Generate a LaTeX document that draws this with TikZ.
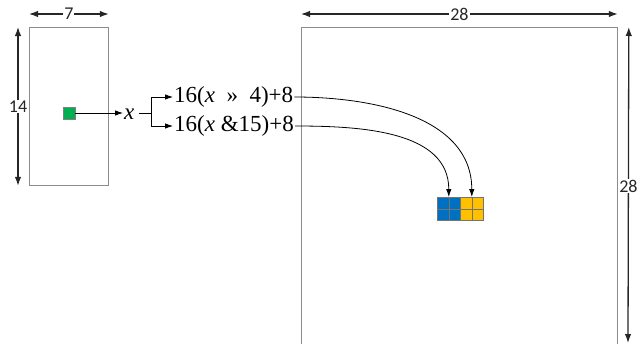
\documentclass[tikz,border=0pt]{standalone}
\usepackage{fontspec}
\setmainfont{Liberation Serif}
\newfontfamily\dimfont{Carlito}
\usetikzlibrary{positioning, arrows.meta, calc}
\definecolor{cellblue}{HTML}{0070C0}
\definecolor{cellyellow}{HTML}{FFC000}
\definecolor{cellgreen}{HTML}{00B050}

\begin{document}
\begin{tikzpicture}[x=1pt, y=-1pt, font=\fontsize{23}{25}\selectfont,
  frame/.style={draw=black!45, line width=0.8pt, inner sep=0pt, anchor=north west},
  dimline/.style={{Latex[length=9pt,width=6.5pt]}-{Latex[length=9pt,width=6.5pt]}, line width=1.3pt, black!85},
  dimlabel/.style={fill=white, inner sep=1pt, font=\dimfont\fontsize{18}{20}\selectfont},
  link/.style={-{Latex[length=8pt,width=5.5pt]}, line width=0.8pt},
  block/.style={draw=black!55, line width=0.6pt, minimum size=23pt, inner sep=0pt}]
  \useasboundingbox (0,0) rectangle (640,343);
  % input map, 7 x 14
  \node[frame, minimum width=79pt, minimum height=158pt] (small) at (29,27) {};
  \draw[dimline] (small.north west) ++(0,-13) coordinate (sa) -- ($(small.north east)+(0,-13)$) node[midway, dimlabel] (w7) {7};
  \draw[dimline] (small.north west) ++(-11,0) coordinate (sb) -- ($(small.south west)+(-11,0)$) node[midway, dimlabel] (h14) {14};
  \node[draw=black!50, fill=cellgreen, minimum size=12pt, inner sep=0pt] (px) at (69,113) {};
  \node[inner sep=1pt, anchor=base west] (xin) at (123,119) {\textit{x}};
  \draw[link] (px.east) -- (px.east -| xin.west);
  % index formulas
  \node[anchor=west, inner sep=1pt] (shift) at (173,97) {16(\textit{x}\ \ »\ \ 4)+8};
  \node[anchor=west, inner sep=1pt] (mask) at (173,126) {16(\textit{x} \&15)+8};
  \draw[line width=0.8pt] (xin.east |- px.east) ++(3,0) coordinate (xo) -- ++(13,0) coordinate (fork);
  \draw[link] (fork) |- (shift.west);
  \draw[link] (fork) |- (mask.west);
  % output map, 28 x 28
  \node[frame, minimum width=316pt, minimum height=340pt] (big) at (301,27) {};
  \draw[dimline] (big.north west) ++(0,-13) coordinate (ba) -- ($(big.north east)+(0,-13)$) node[midway, dimlabel] (w28) {28};
  \draw[dimline] (big.north east) ++(11,0) coordinate (bb) -- (628,343) node[pos=0.504, dimlabel] (h28) {28};
  % blue and yellow 2x2 blocks
  \node[block, fill=cellblue, anchor=north west] (blue) at (437,197) {};
  \node[block, fill=cellyellow, anchor=north west] (yellow) at (460,197) {};
  \foreach \b in {blue, yellow} {
    \draw[black!55, line width=0.6pt] (\b.north) -- (\b.south) (\b.west) -- (\b.east);
  }
  \draw[link] (shift.east) to[out=0, in=90] (yellow.north);
  \draw[link] (mask.east) to[out=0, in=90] (blue.north);
\end{tikzpicture}
\end{document}
